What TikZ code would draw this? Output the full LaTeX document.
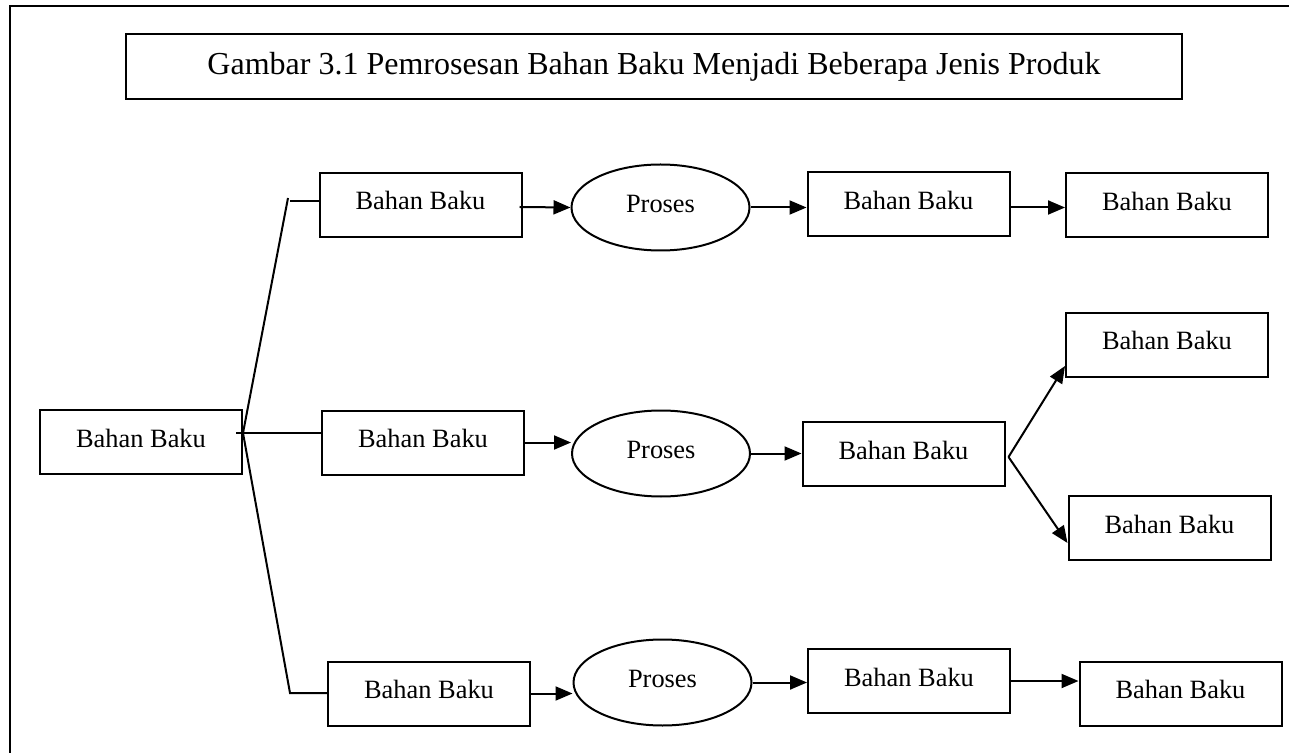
\documentclass[tikz,border=0pt]{standalone}
\usepackage{fontspec}
\setmainfont{Liberation Serif}
\usetikzlibrary{arrows.meta,shapes.geometric,calc}
\begin{document}
\begin{tikzpicture}[x=0.5pt,y=-0.5pt,
  lw/.style={line width=1pt},
  lbl/.style={font=\fontsize{13.2}{15}\selectfont, text height=9pt, text depth=4pt},
  box/.style={draw, lw, rectangle, minimum width=101pt, minimum height=32pt, inner sep=0pt, lbl},
  proc/.style={draw, lw, ellipse, minimum width=89pt, minimum height=43pt, inner sep=0pt, lbl},
  titlebox/.style={draw, lw, rectangle, minimum width=528pt, minimum height=32.5pt, inner sep=0pt, font=\fontsize{16}{19}\selectfont},
  arr/.style={lw, -{Triangle[length=8.5pt,width=7pt]}}]
\useasboundingbox (0,0) rectangle (1289,753);
% outer frame (only top and left edges visible)
\draw[lw] (10,753) -- (10,6) -- (1289,6);

\node[titlebox] (title) at (654,66.5) {Gambar 3.1 Pemrosesan Bahan Baku Menjadi Beberapa Jenis Produk};

\node[box] (L) at (141,442) {Bahan Baku};

\node[box]  (A1) at (420.5,205) {Bahan Baku};
\node[proc] (P1) at (660.5,207.5) {Proses};
\node[box]  (B1) at (908.5,204.5) {Bahan Baku};
\node[box]  (C1) at (1167,205.5) {Bahan Baku};

\node[box]  (A2) at (423,442.5) {Bahan Baku};
\node[proc] (P2) at (661,453.5) {Proses};
\node[box]  (B2) at (903.5,454) {Bahan Baku};
\node[box]  (C2) at (1167,345) {Bahan Baku};
\node[box]  (C3) at (1169.5,528) {Bahan Baku};

\node[box]  (A3) at (429,693.5) {Bahan Baku};
\node[proc] (P3) at (662.5,682.5) {Proses};
\node[box]  (B3) at (909,681) {Bahan Baku};
\node[box]  (D3) at (1180.5,693.5) {Bahan Baku};

% branching from the left box
\coordinate (J) at ($(L.east)+(0,-9)$);
\coordinate (Jt) at (288,198);
\coordinate (Jt2) at (290,201);
\coordinate (Jb) at (290,693);
\draw[lw] ($(J)+(-7,0)$) -- (J -| A2.west);
\draw[lw] (J) -- (Jt);
\draw[lw] (Jt2) -- (Jt2 -| A1.west);
\draw[lw] (J) -- (Jb) -- (Jb -| A3.west);

% row 1
\draw[arr] ($(A1.east)+(-3,2)$) -- (P1.west);
\draw[arr] (P1.east) -- (P1.east -| B1.west);
\draw[arr] (B1.east |- P1.east) -- (C1.west |- P1.east);

% row 2
\draw[arr] (A2.east) -- (A2.east -| P2.west);
\draw[arr] (P2.east) -- (P2.east -| B2.west);
\coordinate (K) at ($(B2.east)+(3,3)$);
\draw[arr] (K) -- ($(C2.south west)+(0,-12)$);
\draw[arr] (K) -- ($(C3.west)+(0,15)$);

% row 3
\draw[arr] (A3.east) -- (A3.east -| P3.west);
\draw[arr] (P3.east) -- (P3.east -| B3.west);
\draw[arr] (B3.east) -- (B3.east -| D3.west);
\end{tikzpicture}
\end{document}
